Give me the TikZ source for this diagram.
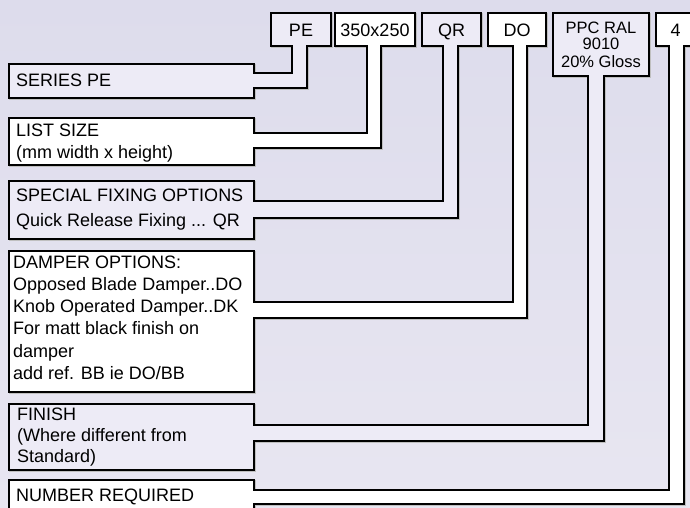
\documentclass[tikz,border=0pt]{standalone}
\usepackage{fontspec}
\setmainfont{Liberation Sans}
\definecolor{bgtop}{RGB}{221,220,236}
\definecolor{bgbot}{RGB}{232,230,241}
\definecolor{lav}{RGB}{237,235,246}
\tikzset{
  tagline/.style={draw=black, line width=1.5pt, line join=miter},
  tagshadow/.style={draw=black!25, line width=1.5pt, line join=miter},
  lbl/.style={anchor=base west, inner sep=0pt, font=\fontsize{18}{22}\selectfont},
  code/.style={anchor=base, inner sep=0pt, font=\fontsize{18}{22}\selectfont},
  codesmall/.style={anchor=base, inner sep=0pt, font=\fontsize{16.5}{18}\selectfont},
}
\begin{document}
\begin{tikzpicture}[x=1pt,y=-1pt]
\useasboundingbox (0,0) rectangle (690,507);
\clip (0,0) rectangle (690,507);
\shade[top color=bgtop, bottom color=bgbot] (0,0) rectangle (690,507);
% Lt/Lb: label box top/bottom; yi/yo: band inner/outer y; xi/xo: band inner/outer x; Tl/Tr/Tb: top box
\foreach \Lt/\Lb/\yi/\yo/\xi/\xo/\Tl/\Tr/\Tb/\col in {
   64/98/73/88/292/307/271/331/46/lav,
   118/165/133/148/367/381/335/415/46/white,
   181/239/201/218/443/458/422/481/46/lav,
   251/392/302/318/513/527/488/546/46/white,
   404/470/425/441/588/604/553/649/76/lav,
   480/530/490/504/669/684/656/700/46/white}{
  \draw[tagshadow, shift={(1.2,1.2)}] (9,\Lt) -- (254,\Lt) -- (254,\yi) -- (\xi,\yi) -- (\xi,\Tb) -- (\Tl,\Tb) -- (\Tl,13) -- (\Tr,13) -- (\Tr,\Tb) -- (\xo,\Tb) -- (\xo,\yo) -- (254,\yo) -- (254,\Lb) -- (9,\Lb) -- cycle;
  \draw[tagline, fill=\col] (9,\Lt) -- (254,\Lt) -- (254,\yi) -- (\xi,\yi) -- (\xi,\Tb) -- (\Tl,\Tb) -- (\Tl,13) -- (\Tr,13) -- (\Tr,\Tb) -- (\xo,\Tb) -- (\xo,\yo) -- (254,\yo) -- (254,\Lb) -- (9,\Lb) -- cycle;
}
% top codes
\node[code] (pe) at (301,36) {PE};
\node[code] (siz) at (375,36) {350x250};
\node[code] (qr) at (451.5,36) {QR};
\node[code] (dotop) at (517,36) {DO};
\node[codesmall] (ppc1) at (601,33.3) {PPC RAL};
\node[codesmall] (ppc2) at (601,49.5) {9010};
\node[codesmall] (ppc3) at (601,67.3) {20\% Gloss};
\node[code] (four) at (675.5,36) {4};
% label texts
\node[lbl] (series) at (16,86.5) {SERIES PE};
\node[lbl] (size1) at (16,136) {LIST SIZE};
\node[lbl] (size2) at (16,158.3) {(mm width x height)};
\node[lbl] (fix1) at (16,201) {SPECIAL FIXING OPTIONS};
\node[lbl] (fix2) at (16,226) {Quick Release Fixing ... QR};
\node[lbl] (dmp1) at (13,268) {DAMPER OPTIONS:};
\node[lbl] (dmp2) at (13,290.3) {Opposed Blade Damper..DO};
\node[lbl] (dmp3) at (13,312.6) {Knob Operated Damper..DK};
\node[lbl] (dmp4) at (13,334.9) {For matt black finish on};
\node[lbl] (dmp5) at (13,357.2) {damper};
\node[lbl] (dmp6) at (13,379.5) {add ref. BB ie DO/BB};
\node[lbl] (fin1) at (17,420.5) {FINISH};
\node[lbl] (fin2) at (17,441.5) {(Where different from};
\node[lbl] (fin3) at (17,462.5) {Standard)};
\node[lbl] (num) at (16,501.5) {NUMBER REQUIRED};
\end{tikzpicture}
\end{document}
